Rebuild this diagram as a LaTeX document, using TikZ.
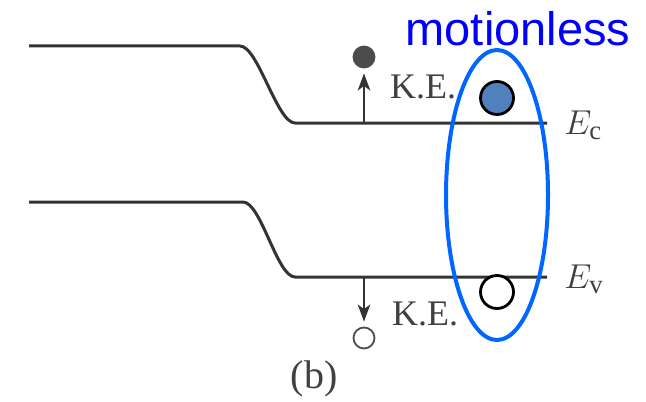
\documentclass[tikz,border=0pt]{standalone}
\usepackage{fontspec}
\setmainfont{Liberation Serif}
\newfontfamily\labelfont{Liberation Sans}
\usetikzlibrary{arrows.meta,shapes.geometric}
\definecolor{hiblue}{RGB}{0,102,255}
\definecolor{txtblue}{RGB}{0,0,255}
\definecolor{steel}{RGB}{79,129,189}

\begin{document}
\begin{tikzpicture}[
  x=0.5pt, y=-0.5pt, >={Stealth[length=3mm,width=2.2mm,inset=0.8mm]},
  band/.style={line width=1.5pt, draw=black!80},
  ke/.style={font=\fontsize{18}{20}\selectfont, text=black!75, inner sep=0pt},
  lvl/.style={font=\fontsize{19}{21}\selectfont, text=black!75, inner sep=0pt, anchor=base west},
  carrier/.style={circle, draw=black, line width=1.4pt, minimum size=16.5pt, inner sep=0pt},
  small/.style={circle, draw=black!70, line width=0.9pt, minimum size=10.5pt, inner sep=0pt},
  a/.style={->, line width=0.9pt, draw=black!80},
]
\useasboundingbox (0,0) rectangle (646,401);
% band edges
\draw[band] (29,46) -- (240,46) .. controls (258,46) and (277,123) .. (295,123) -- (547,123);
\draw[band] (29,202) -- (243,202) .. controls (261,202) and (277,277) .. (295,277) -- (547,277);
\coordinate (cb) at (364,123);
\coordinate (vb) at (364,277);
% carriers with kinetic energy
\node[small, fill=black!70] (el) at (364,57) {};
\node[small, fill=white] (ho) at (364,338) {};
\draw[a, shorten >=2.5pt] (cb) -- (el);
\draw[a, shorten >=2.5pt] (vb) -- (ho);
\node[ke] (ke1) at (423,87) {K.E.};
\node[ke] (ke2) at (425,314) {K.E.};
% carriers at the band edges
\node[carrier, fill=steel] (ec) at (497,98) {};
\node[carrier, fill=white] (hv) at (497,292) {};
\node[lvl] (Ec) at (564,134) {$E_{\mathrm{c}}$};
\node[lvl] (Ev) at (564,288) {$E_{\mathrm{v}}$};
% highlight
\node[ellipse, draw=hiblue, line width=2pt, minimum width=51pt, minimum height=145pt, inner sep=0pt] (blob) at (497,195) {};
\node[font=\labelfont\fontsize{23.5}{25}\selectfont, text=txtblue, inner sep=0pt] (mot) at (518,29) {motionless};
\node[font=\fontsize{20}{22}\selectfont, text=black!75, inner sep=0pt] (cap) at (314,379) {(b)};
\end{tikzpicture}
\end{document}
